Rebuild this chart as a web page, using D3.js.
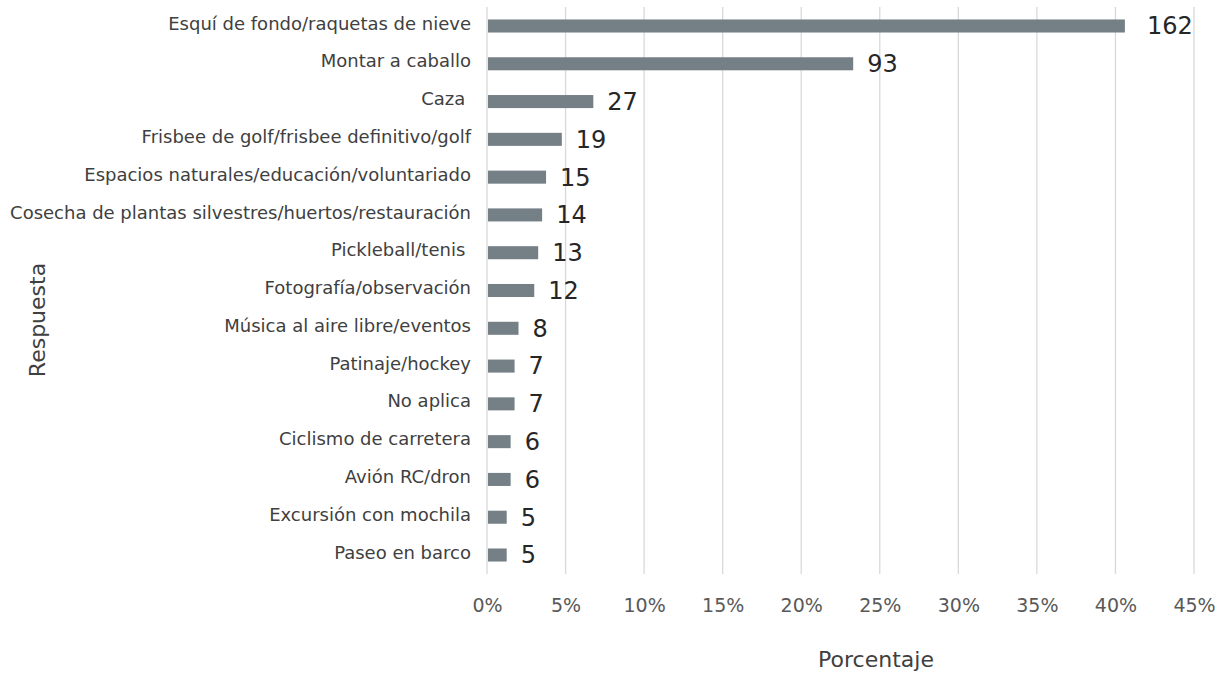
<!DOCTYPE html>
<html>
<head>
<meta charset="utf-8">
<script src="https://cdn.jsdelivr.net/npm/d3@7"></script>
<style>
  body { margin: 0; background: #fff; }
  svg text { font-family: "DejaVu Sans", sans-serif; }
  .cat { white-space: pre; }
</style>
</head>
<body>
<svg id="chart" width="1218" height="673"></svg>
<script>
// --- data ---
const categories = [
  "Esquí de fondo/raquetas de nieve",
  "Montar a caballo",
  "Caza ",
  "Frisbee de golf/frisbee definitivo/golf",
  "Espacios naturales/educación/voluntariado",
  "Cosecha de plantas silvestres/huertos/restauración",
  "Pickleball/tenis ",
  "Fotografía/observación",
  "Música al aire libre/eventos",
  "Patinaje/hockey",
  "No aplica",
  "Ciclismo de carretera",
  "Avión RC/dron",
  "Excursión con mochila",
  "Paseo en barco"
];
const counts = [162, 93, 27, 19, 15, 14, 13, 12, 8, 7, 7, 6, 6, 5, 5];
const totalResponses = 399;
const xTicks = [0, 0.05, 0.10, 0.15, 0.20, 0.25, 0.30, 0.35, 0.40, 0.45];

const rows = categories.map((c, i) => ({ label: c, count: counts[i], pct: counts[i] / totalResponses }));

const svg = d3.select("#chart");
const margin = { left: 487, top: 7 };

const x = d3.scaleLinear().domain([0, 0.45]).range([margin.left, 1194]);
const y = d3.scaleBand().domain(categories).range([margin.top, 574]).paddingInner(0.655).paddingOuter(0.33);

// gridlines
svg.append("g").attr("class", "grid").selectAll("line").data(xTicks).enter().append("line")
  .attr("x1", d => x(d)).attr("x2", d => x(d))
  .attr("y1", margin.top).attr("y2", 574)
  .attr("stroke", "#d9d9d9").attr("stroke-width", 1.3);

// x axis labels
const xAxis = d3.axisBottom(x).tickValues(xTicks).tickFormat(d3.format(".0%")).tickSize(0).tickPadding(0);
const gx = svg.append("g").attr("transform", "translate(0,612)").call(xAxis);
gx.select(".domain").remove();
gx.selectAll("text").attr("font-size", 19).attr("fill", "#595959")
  .attr("font-family", "'Open Sans', 'Noto Sans', sans-serif").attr("dy", "0");

// bars
svg.append("g").selectAll("rect").data(rows).enter().append("rect")
  .attr("x", x(0) + 1).attr("y", d => y(d.label))
  .attr("width", d => x(d.pct) - x(0) - 1).attr("height", y.bandwidth())
  .attr("fill", "#747f86");

// value labels
svg.append("g").selectAll("text").data(rows).enter().append("text")
  .attr("x", d => x(d.pct) + (d.count > 100 ? 22 : 14))
  .attr("y", d => y(d.label) + y.bandwidth() / 2)
  .attr("dy", "0.35em")
  .attr("font-size", 24).attr("fill", "#262626")
  .text(d => d.count);

// category labels
const yAxis = d3.axisLeft(y).tickSize(0).tickPadding(16);
const gy = svg.append("g").attr("transform", `translate(${x(0)},0)`).call(yAxis);
gy.select(".domain").remove();
gy.selectAll("text").attr("class", "cat").attr("font-size", 18).attr("fill", "#404040")
  .attr("font-family", "'DejaVu Sans', sans-serif").attr("dy", "0.2em");

// axis titles
svg.append("text").attr("x", 876).attr("y", 667).attr("text-anchor", "middle")
  .attr("font-size", 22).attr("fill", "#404040").text("Porcentaje");
svg.append("text").attr("transform", "translate(45,320) rotate(-90)").attr("text-anchor", "middle")
  .attr("font-size", 22).attr("fill", "#404040").text("Respuesta");
</script>
</body>
</html>
